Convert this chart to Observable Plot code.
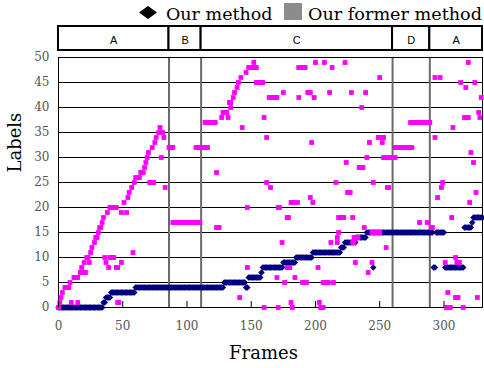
<!DOCTYPE html>
<html><head><meta charset="utf-8">
<script src="https://cdn.jsdelivr.net/npm/d3@7"></script>
<script src="https://cdn.jsdelivr.net/npm/@observablehq/plot@0.6"></script>
<style>
body{margin:0;background:#fff;width:484px;height:368px;overflow:hidden;position:relative;font-family:"DejaVu Serif",serif;}
#legend,#band,#chart{position:absolute;left:0;}
#legend{top:0;}
#band{top:24px;}
#chart{top:0;}
#chart text{font-family:"DejaVu Serif",serif;}
#band text{font-family:"Liberation Sans",sans-serif;}
svg{display:block;overflow:visible;}
</style></head><body>
<div id="chart"></div>
<div id="band"></div>
<div id="legend"></div>
<script>
// ---- data ----
const xTicks = [0, 50, 100, 150, 200, 250, 300];
const yTicks = [0, 5, 10, 15, 20, 25, 30, 35, 40, 45, 50];
const gridTicks = [5, 10, 15, 20, 25, 30, 35, 40, 45];
const segLabels = ["A", "B", "C", "D", "A"];
const segStarts = [0, 86, 111, 260, 289];
const segEnds = [86, 111, 260, 289, 330];
const seriesNames = ["Our method", "Our former method"];

// [first frame, last frame, label]
const ourRuns = [
  [0,34,0],[35,36,1],[37,40,2],[41,59,3],[60,128,4],[129,145,5],[146,147,4],[148,157,6],
  [158,158,7],[159,174,8],[175,184,9],[185,197,10],[198,219,11],[220,222,12],[223,231,13],
  [232,239,14],[240,291,15],[245,245,8],[292,293,8],[294,300,15],[301,315,8],[316,321,16],
  [322,322,17],[323,330,18]
];
const formerRuns = [
  [0,0,0],[1,1,1],[2,2,2],[3,3,3],[5,8,4],[9,9,5],[12,15,6],[17,21,7],[18,18,8],[20,20,9],
  [24,24,9],[22,23,10],[25,25,11],[26,26,12],[28,28,13],[29,30,14],[31,31,15],[32,33,16],
  [34,34,17],[35,35,18],[38,38,19],[40,45,20],[49,49,19],[53,53,19],[51,51,21],[54,54,22],
  [55,55,23],[57,57,24],[59,59,25],[60,63,26],[64,66,27],[67,67,28],[68,68,29],[69,69,30],
  [70,70,31],[73,73,32],[75,75,33],[76,76,34],[78,78,35],[79,79,36],[81,81,35],[82,82,34],
  [80,80,30],[83,83,24],[71,74,25],[86,89,32],
  [36,36,10],[40,43,10],[37,37,9],[49,49,9],[39,39,8],[45,46,8],[58,58,11],[10,10,1],
  [15,15,1],[46,47,1],
  [89,110,17],[107,116,32],
  [114,122,37],[123,123,27],[123,125,16],[127,127,38],[132,132,38],[128,131,39],[134,134,40],
  [133,134,41],[136,136,42],[137,137,43],[139,139,44],[140,140,45],[142,142,46],[146,146,47],
  [148,154,48],[152,152,49],[154,159,45],[164,170,42],[143,143,36],[160,160,38],[162,162,34],
  [175,175,43],[162,162,25],[165,165,24],[147,147,20],[171,172,20],[181,181,21],[183,183,21],
  [186,186,21],[178,179,18],[174,174,13],[147,147,8],[141,141,2],[170,170,6],[176,176,5],
  [178,180,8],[184,184,6],[160,160,0],[171,171,0],[181,181,1],[182,182,0],
  [187,192,48],[200,200,49],[207,207,49],[213,213,48],[223,223,49],[250,250,46],[187,187,42],
  [194,196,43],[199,199,42],[211,211,43],[228,228,43],[239,239,43],[236,236,40],[197,197,33],
  [242,242,33],[249,253,34],[252,252,33],[253,262,30],[240,240,30],[224,224,29],[234,237,28],
  [216,216,25],[245,245,25],[256,257,24],[225,227,23],[196,196,22],[198,198,21],[218,222,18],
  [229,229,18],[238,238,16],[218,218,15],[217,217,14],[212,212,13],[217,217,13],[230,233,14],
  [229,230,13],[255,255,12],[202,202,8],[231,231,9],[244,244,9],[241,241,7],[190,193,5],
  [206,210,5],[214,214,5],[203,203,1],[204,206,0],[244,250,15],
  [262,275,32],[274,289,37],[281,281,17],[287,287,17],[290,291,16],
  [319,319,49],[293,293,46],[297,297,46],[313,313,45],[324,324,45],[317,317,44],[329,329,42],
  [327,327,39],[316,319,38],[328,328,38],[307,307,36],[293,293,34],[321,321,31],[323,323,29],
  [299,299,25],[298,298,24],[295,295,22],[325,325,23],[320,320,21],[306,306,18],[309,309,10],
  [301,301,9],[310,312,9],[303,303,3],[309,311,2],[326,326,2],[302,305,0],[315,315,0]
];

// expand run-length records into one point per frame
const expand = runs => runs.flatMap(([a, b, l]) => d3.range(a, b + 1).map(f => ({frame: f, label: l})));
const ourPts = expand(ourRuns);
const formerPts = expand(formerRuns);
const segments = segLabels.map((s, i) => ({label: s, start: segStarts[i], end: segEnds[i]}));
const boundaries = segStarts.slice(1);

const FONT = "DejaVu Serif";
const xOpts = {domain: [0, 330]};
const ML = 58, MR = 2;

// ---- main chart ----
const chart = Plot.plot({
  width: 484, height: 368,
  marginLeft: ML, marginRight: MR, marginTop: 57, marginBottom: 61,
  style: {fontFamily: FONT, background: "transparent", overflow: "visible"},
  x: {...xOpts},
  y: {domain: [0, 50]},
  marks: [
    Plot.ruleY(gridTicks, {stroke: "#000", strokeWidth: 1}),
    Plot.ruleX(boundaries, {stroke: "#6a6a6a", strokeWidth: 2}),
    Plot.frame({stroke: "#000", strokeWidth: 1}),
    Plot.dot(ourPts, {x: "frame", y: "label", symbol: "diamond2", r: 2.9, fill: "#000080", stroke: "none"}),
    Plot.dot(formerPts, {x: "frame", y: "label", symbol: "square", r: 2.7, fill: "#ff00ff", stroke: "none"}),
    Plot.axisX({ticks: xTicks, tickSize: 0, tickPadding: 14, fontSize: 12, fontFamily: FONT, fill: "#555", label: null}),
    Plot.axisX({ticks: xTicks, tickSize: -6, tickFormat: () => "", label: null, stroke: "#000"}),
    Plot.axisY({ticks: yTicks, tickSize: 0, tickPadding: 9, fontSize: 12, fontFamily: FONT, fill: "#555", label: null}),
    Plot.text(["Frames"], {frameAnchor: "bottom", dy: 51, dx: -7, fontSize: 18, fontFamily: FONT, fill: "#000"}),
    Plot.text(["Labels"], {frameAnchor: "left", rotate: -90, dx: -43, dy: -10, fontSize: 18, fontFamily: FONT, fill: "#000"})
  ]
});
document.getElementById("chart").append(chart);

// ---- segment band ----
const band = Plot.plot({
  width: 484, height: 28,
  marginLeft: ML, marginRight: MR, marginTop: 2, marginBottom: 2,
  style: {fontFamily: "Liberation Sans", background: "transparent", overflow: "visible"},
  x: {...xOpts, axis: null},
  marks: [
    Plot.barX(segments, {x1: "start", x2: "end", fill: "#fff", stroke: "#000", strokeWidth: 2, insetLeft: 0, insetRight: 0}),
    Plot.text(segments, {x: d => (d.start + d.end) / 2, text: "label", frameAnchor: "middle", dy: 2, fontSize: 11, fill: "#000"})
  ]
});
document.getElementById("band").append(band);

// ---- legend ----
const lg = d3.create("svg").attr("width", 484).attr("height", 24).attr("font-family", FONT).attr("font-size", 17.5);
lg.append("path").attr("d", "M148,6L157,12.5L148,19L139,12.5Z").attr("fill", "#000");
lg.append("text").attr("x", 166).attr("y", 20).text(seriesNames[0]);
lg.append("rect").attr("x", 284).attr("y", 3).attr("width", 18).attr("height", 17).attr("fill", "#8c8c8c");
lg.append("text").attr("x", 308).attr("y", 20).attr("textLength", 174).attr("lengthAdjust", "spacingAndGlyphs").text(seriesNames[1]);
document.getElementById("legend").append(lg.node());
</script>
</body></html>
